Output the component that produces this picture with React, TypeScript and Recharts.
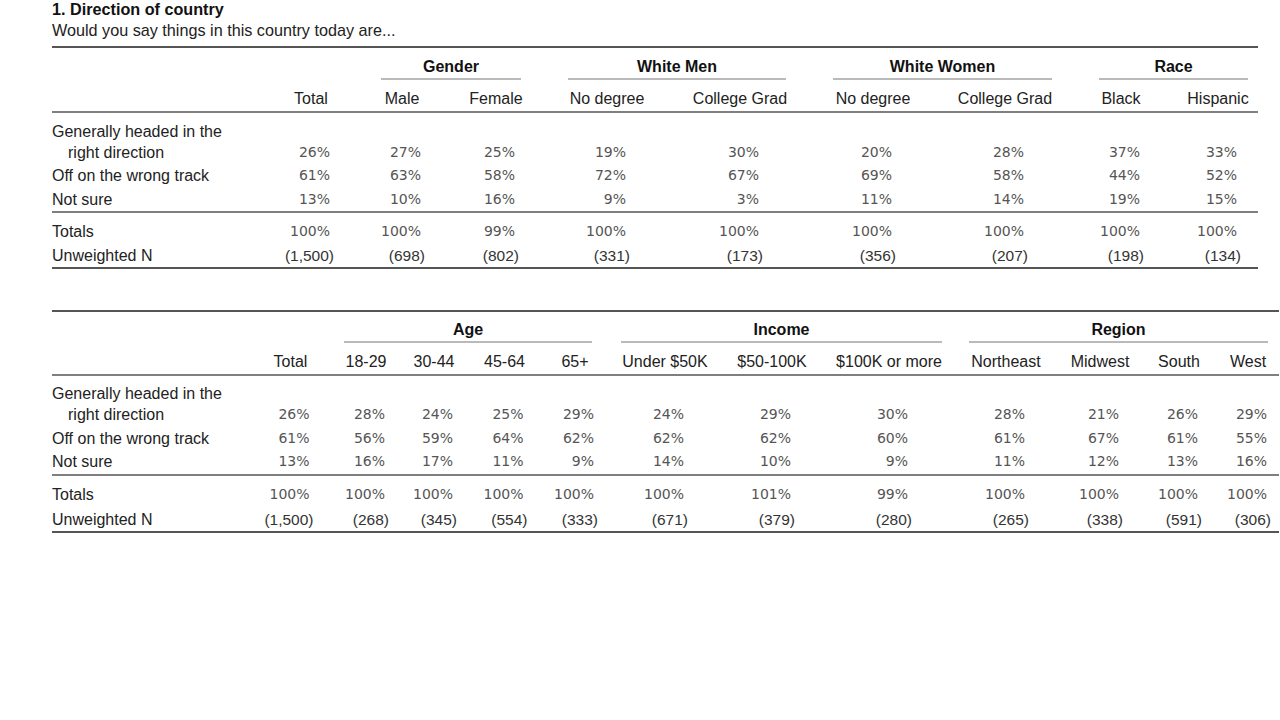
import { ScatterChart, Scatter, XAxis, YAxis, ReferenceLine } from 'recharts';

// ---- data ----
const title = '1. Direction of country';
const subtitle = 'Would you say things in this country today are...';
const rowLabels = ['Generally headed in the', 'right direction', 'Off on the wrong track', 'Not sure', 'Totals', 'Unweighted N'];

const topGroups = ['Gender', 'White Men', 'White Women', 'Race'];
const topColumns = ['Total', 'Male', 'Female', 'No degree', 'College Grad', 'No degree', 'College Grad', 'Black', 'Hispanic'];
const topRight = [26, 27, 25, 19, 30, 20, 28, 37, 33];
const topWrong = [61, 63, 58, 72, 67, 69, 58, 44, 52];
const topNotSure = [13, 10, 16, 9, 3, 11, 14, 19, 15];
const topTotals = [100, 100, 99, 100, 100, 100, 100, 100, 100];
const topN = [1500, 698, 802, 331, 173, 356, 207, 198, 134];

const bottomGroups = ['Age', 'Income', 'Region'];
const bottomColumns = ['Total', '18-29', '30-44', '45-64', '65+', 'Under $50K', '$50-100K', '$100K or more', 'Northeast', 'Midwest', 'South', 'West'];
const bottomRight = [26, 28, 24, 25, 29, 24, 29, 30, 28, 21, 26, 29];
const bottomWrong = [61, 56, 59, 64, 62, 62, 62, 60, 61, 67, 61, 55];
const bottomNotSure = [13, 16, 17, 11, 9, 14, 10, 9, 11, 12, 13, 16];
const bottomTotals = [100, 100, 100, 100, 100, 100, 101, 99, 100, 100, 100, 100];
const bottomN = [1500, 268, 345, 554, 333, 671, 379, 280, 265, 338, 591, 306];

// ---- layout (plot units = pixels of the 1280x720 frame) ----
const topLayout = {
  colX: [311, 402, 496, 607, 740, 873, 1005, 1121, 1218],
  spans: [[381, 521], [568, 786], [833, 1052], [1099, 1248]],
  ruleX: [52, 1258],
  y: { top: 47, group: 66, under: 79, head: 98, rule1: 112, gen: 131, right: 152, wrong: 175, unsure: 199, rule2: 212, totals: 231, n: 255, bottom: 268 },
};
const bottomLayout = {
  colX: [290.5, 366, 434, 504.5, 575, 665, 772, 889, 1006, 1100, 1179, 1248],
  spans: [[344, 592], [621, 942], [969, 1268]],
  ruleX: [52, 1279],
  y: { top: 311, group: 329, under: 342, head: 361, rule1: 375, gen: 393, right: 414, wrong: 438, unsure: 461, rule2: 475, totals: 494, n: 519, bottom: 532 },
};

const SANS = '"Liberation Sans", Arial, sans-serif';
const NUM = '"DejaVu Sans", sans-serif';

type Pt = { x: number; y: number; text: string };

function buildTable(groups: string[], cols: string[], rows: number[][], n: number[], L: typeof topLayout) {
  const labels: Pt[] = [
    { x: 52, y: L.y.gen, text: rowLabels[0] },
    { x: 68, y: L.y.right, text: rowLabels[1] },
    { x: 52, y: L.y.wrong, text: rowLabels[2] },
    { x: 52, y: L.y.unsure, text: rowLabels[3] },
    { x: 52, y: L.y.totals, text: rowLabels[4] },
    { x: 52, y: L.y.n, text: rowLabels[5] },
  ];
  const heads: Pt[] = cols.map((c, i) => ({ x: L.colX[i], y: L.y.head, text: c }));
  const groupPts: Pt[] = groups.map((g, i) => ({ x: (L.spans[i][0] + L.spans[i][1]) / 2, y: L.y.group, text: g }));
  const rowY = [L.y.right, L.y.wrong, L.y.unsure, L.y.totals];
  const pcts: Pt[] = [];
  rows.forEach((r, ri) => r.forEach((v, i) => pcts.push({ x: L.colX[i] + 19, y: rowY[ri], text: `${v}%` })));
  const counts: Pt[] = n.map((v, i) => ({ x: L.colX[i] + 23, y: L.y.n, text: `(${v.toLocaleString('en-US')})` }));
  return { labels, heads, groupPts, pcts, counts };
}

const top = buildTable(topGroups, topColumns, [topRight, topWrong, topNotSure, topTotals], topN, topLayout);
const bottom = buildTable(bottomGroups, bottomColumns, [bottomRight, bottomWrong, bottomNotSure, bottomTotals], bottomN, bottomLayout);

const textShape =
  (anchor: 'start' | 'middle' | 'end', family: string, size: number, weight: number, fill: string) =>
  (props: any) => (
    <text
      x={props.cx}
      y={props.cy}
      dy="0.36em"
      textAnchor={anchor}
      fontFamily={family}
      fontSize={size}
      fontWeight={weight}
      fill={fill}
    >
      {props.payload.text}
    </text>
  );

function rules(L: typeof topLayout, key: string) {
  const [x1, x2] = L.ruleX;
  const out = [
    { y: L.y.top, w: 2 },
    { y: L.y.rule1, w: 1.5 },
    { y: L.y.rule2, w: 1.5 },
    { y: L.y.bottom, w: 2 },
  ].map((r, i) => (
    <ReferenceLine
      key={`${key}-r${i}`}
      segment={[{ x: x1, y: r.y }, { x: x2, y: r.y }]}
      stroke="#555"
      strokeWidth={r.w}
    />
  ));
  L.spans.forEach((s, i) =>
    out.push(
      <ReferenceLine
        key={`${key}-u${i}`}
        segment={[{ x: s[0], y: L.y.under }, { x: s[1], y: L.y.under }]}
        stroke="#777"
        strokeWidth={1.2}
      />
    )
  );
  return out;
}

export default function App() {
  const titlePts: Pt[] = [{ x: 52, y: 9, text: title }];
  const subPts: Pt[] = [{ x: 52, y: 30, text: subtitle }];
  return (
    <div>
      <style>{'body{margin:0;background:#fff}'}</style>
      <ScatterChart width={1280} height={720} margin={{ top: 0, right: 0, bottom: 0, left: 0 }}>
        <XAxis type="number" dataKey="x" domain={[0, 1280]} allowDataOverflow hide />
        <YAxis type="number" dataKey="y" domain={[0, 720]} allowDataOverflow reversed hide />
        {rules(topLayout, 't')}
        {rules(bottomLayout, 'b')}
        <Scatter data={titlePts} isAnimationActive={false} shape={textShape('start', SANS, 16.2, 700, '#111')} />
        <Scatter data={subPts} isAnimationActive={false} shape={textShape('start', SANS, 16.2, 400, '#222')} />
        {[top, bottom].map((t, k) => [
          <Scatter key={`l${k}`} data={t.labels} isAnimationActive={false} shape={textShape('start', SANS, 16, 400, '#222')} />,
          <Scatter key={`h${k}`} data={t.heads} isAnimationActive={false} shape={textShape('middle', SANS, 16, 400, '#222')} />,
          <Scatter key={`g${k}`} data={t.groupPts} isAnimationActive={false} shape={textShape('middle', SANS, 16, 700, '#111')} />,
          <Scatter key={`p${k}`} data={t.pcts} isAnimationActive={false} shape={textShape('end', NUM, 14, 400, '#555')} />,
          <Scatter key={`n${k}`} data={t.counts} isAnimationActive={false} shape={textShape('end', SANS, 15.5, 400, '#333')} />,
        ])}
      </ScatterChart>
    </div>
  );
}
